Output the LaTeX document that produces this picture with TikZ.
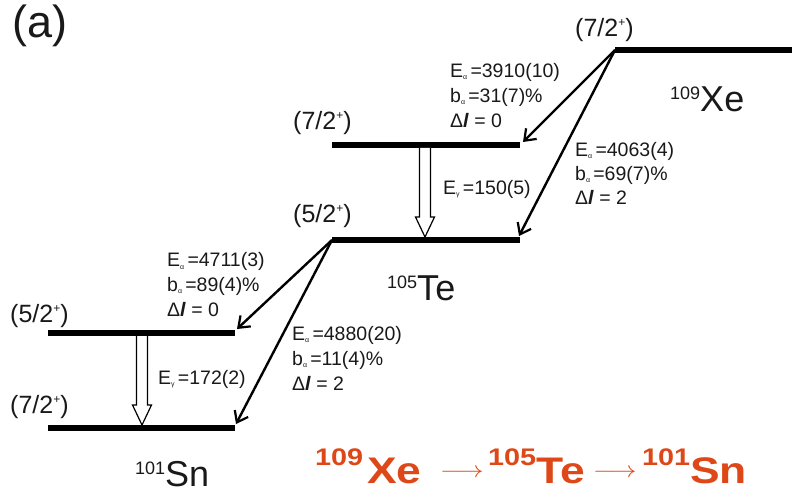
\documentclass[tikz,border=0pt]{standalone}
\usepackage{fontspec}
\setmainfont{Liberation Sans}
\usetikzlibrary{arrows.meta,calc}
\definecolor{decayorange}{RGB}{222,72,24}
\definecolor{inkgray}{RGB}{25,25,25}
\tikzset{
 levelline/.style={line width=6pt,line cap=butt,draw=black},
 alphadecay/.style={line width=2.4pt,draw=black,-{Straight Barb[length=10pt,width=15pt,line width=2.2pt]}},
 gammabox/.style={draw=black,fill=white,line width=1.2pt,line join=miter},
 info/.style={anchor=base west,inner sep=0pt,text=inkgray,font=\fontsize{19.5}{19.5}\selectfont},
 spin/.style={anchor=base west,inner sep=0pt,text=inkgray,font=\fontsize{25}{25}\selectfont},
 iso/.style={anchor=base west,inner sep=0pt,text=inkgray,font=\fontsize{36}{36}\selectfont},
}
\newcommand{\subal}{\raisebox{-2pt}{\fontsize{7}{7}\selectfont α}\,}
\newcommand{\subga}{\raisebox{-2pt}{\fontsize{7}{7}\selectfont γ}\,}
\newcommand{\spinlab}[1]{(#1/2\raisebox{10pt}{\fontsize{12}{12}\selectfont +})}
\newcommand{\dlval}{Δ\textbf{\textit{l}}}
\newcommand{\massn}[1]{\raisebox{12pt}{\fontsize{18}{18}\selectfont #1}}
\newcommand{\widebit}[1]{\scalebox{1.2}[1]{#1}}
\newcommand{\massb}[1]{\raisebox{18pt}{\widebit{\fontsize{24}{24}\selectfont #1}}}
\newcommand{\decayarr}{\raisebox{6pt}{\scalebox{2.7}[2.3]{\fontsize{10}{10}\selectfont$\longrightarrow$}}}
\begin{document}
\begin{tikzpicture}[x=1pt,y=-1pt]
\useasboundingbox (0,0) rectangle (792,494);
% level end points
\coordinate (xeL) at (615,50);  \coordinate (xeR) at (792,50);
\coordinate (teaL) at (332,145); \coordinate (teaR) at (520,145);
\coordinate (tebL) at (332,240); \coordinate (tebR) at (520,240);
\coordinate (snaL) at (48,333);  \coordinate (snaR) at (235,333);
\coordinate (snbL) at (48,428);  \coordinate (snbR) at (235,428);
% levels
\draw[levelline] (xeL) -- (xeR);
\draw[levelline] (teaL) -- (teaR);
\draw[levelline] (tebL) -- (tebR);
\draw[levelline] (snaL) -- (snaR);
\draw[levelline] (snbL) -- (snbR);
% alpha arrows
\coordinate (t1) at (523,142);
\coordinate (t2) at (519,236);
\coordinate (t3) at (237,329);
\coordinate (t4) at (236,424);
\draw[alphadecay] (xeL) -- (t1);
\draw[alphadecay] (xeL) -- (t2);
\draw[alphadecay] (tebL) -- (t3);
\draw[alphadecay] (tebL) -- (t4);
% gamma arrows
\coordinate (g1) at (425,148);
\draw[gammabox] ($(g1)+(-5.5,0)$) -- ($(g1)+(-5.5,69)$) -- ($(g1)+(-9.5,69)$) -- ($(g1)+(0,89)$) -- ($(g1)+(9.5,69)$) -- ($(g1)+(5.5,69)$) -- ($(g1)+(5.5,0)$);
\coordinate (g2) at (142,336);
\draw[gammabox] ($(g2)+(-5.5,0)$) -- ($(g2)+(-5.5,69)$) -- ($(g2)+(-9.5,69)$) -- ($(g2)+(0,89)$) -- ($(g2)+(9.5,69)$) -- ($(g2)+(5.5,69)$) -- ($(g2)+(5.5,0)$);
% panel label
\node[anchor=base west,inner sep=0pt,text=inkgray,font=\fontsize{45}{45}\selectfont] (panel) at (12,38) {(a)};
% spin labels
\node[spin] (sxe) at (575,37) {\spinlab{7}};
\node[spin] (stea) at (293,130) {\spinlab{7}};
\node[spin] (steb) at (293,223) {\spinlab{5}};
\node[spin] (ssna) at (10,322) {\spinlab{5}};
\node[spin] (ssnb) at (10,413) {\spinlab{7}};
% alpha info blocks
\node[info] (b1a) at (450,78) {E\subal=3910(10)};
\node[info] (b1b) at (450,103) {b\subal=31(7)\%};
\node[info] (b1c) at (450,128) {\dlval{} = 0};
\node[info] (b2a) at (575,157) {E\subal=4063(4)};
\node[info] (b2b) at (575,181) {b\subal=69(7)\%};
\node[info] (b2c) at (575,205) {\dlval{} = 2};
\node[info] (b3a) at (167,267) {E\subal=4711(3)};
\node[info] (b3b) at (167,291) {b\subal=89(4)\%};
\node[info] (b3c) at (167,316) {\dlval{} = 0};
\node[info] (b4a) at (292,340) {E\subal=4880(20)};
\node[info] (b4b) at (292,365) {b\subal=11(4)\%};
\node[info] (b4c) at (292,390) {\dlval{} = 2};
% gamma info
\node[info] (ga) at (443,195) {E\subga=150(5)};
\node[info] (gb) at (158,384) {E\subga=172(2)};
% isotope labels
\node[iso] (xe) at (670,112) {\massn{109}Xe};
\node[iso] (te) at (387,300) {\massn{105}Te};
\node[iso] (sn) at (135,486) {\massn{101}Sn};
% decay chain
\node[anchor=base west,inner sep=0pt,text=decayorange,font=\bfseries\fontsize{37}{37}\selectfont] (chain) at (315,483)
 {\makebox[52pt][l]{\massb{109}}\makebox[73pt][l]{\widebit{Xe}}\makebox[48pt][l]{\decayarr}\makebox[48pt][l]{\massb{105}}\makebox[57pt][l]{\widebit{Te}}\makebox[49pt][l]{\decayarr}\makebox[48pt][l]{\massb{101}}\widebit{Sn}};
\end{tikzpicture}
\end{document}
